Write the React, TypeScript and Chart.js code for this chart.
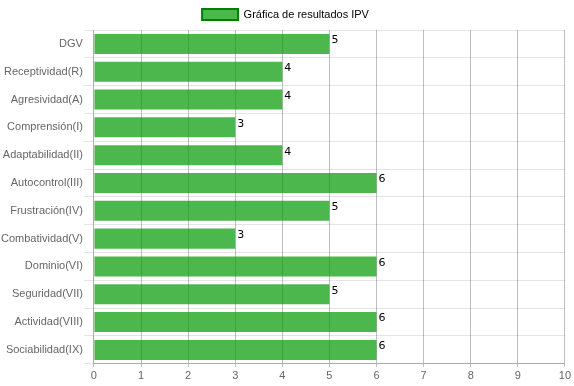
import React, { useEffect, useRef } from "react";
import { Chart, registerables } from "chart.js";

Chart.register(...registerables);

const categories = [
  "DGV",
  "Receptividad(R)",
  "Agresividad(A)",
  "Comprensión(I)",
  "Adaptabilidad(II)",
  "Autocontrol(III)",
  "Frustración(IV)",
  "Combatividad(V)",
  "Dominio(VI)",
  "Seguridad(VII)",
  "Actividad(VIII)",
  "Sociabilidad(IX)",
];
const values = [5, 4, 4, 3, 4, 6, 5, 3, 6, 5, 6, 6];
const seriesLabel = "Gráfica de resultados IPV";
const xMin = 0;
const xMax = 10;

const valueLabels = {
  id: "valueLabels",
  afterDatasetsDraw(chart: any) {
    const ctx = chart.ctx;
    const meta = chart.getDatasetMeta(0);
    ctx.save();
    ctx.font = "11px 'DejaVu Sans', sans-serif";
    ctx.fillStyle = "#000";
    ctx.textAlign = "left";
    ctx.textBaseline = "top";
    meta.data.forEach((bar: any, i: number) => {
      const v = chart.data.datasets[0].data[i];
      ctx.fillText(String(v), bar.x + 2, bar.y - bar.height / 2 + 1);
    });
    ctx.restore();
  },
};

export default function App() {
  const ref = useRef<HTMLCanvasElement | null>(null);
  useEffect(() => {
    if (!ref.current) return;
    Chart.defaults.font.family = "'Liberation Sans', Arial, sans-serif";
    Chart.defaults.font.size = 11;
    Chart.defaults.color = "#666";
    const chart = new Chart(ref.current, {
      type: "bar",
      data: {
        labels: categories,
        datasets: [
          {
            label: seriesLabel,
            data: values,
            backgroundColor: "rgba(0,153,0,0.7)",
            borderColor: "rgba(0,128,0,1)",
            borderWidth: 0,
          },
        ],
      },
      options: {
        indexAxis: "y",
        responsive: true,
        maintainAspectRatio: false,
        animation: false,
        layout: { padding: { left: 0, right: 3, top: 0, bottom: 0 } },
        plugins: {
          legend: {
            display: true,
            position: "top",
            labels: {
              boxWidth: 36,
              boxHeight: 11,
              padding: 9,
              font: { size: 11 },
              generateLabels: () => [
                {
                  text: seriesLabel,
                  fillStyle: "rgba(0,153,0,0.7)",
                  strokeStyle: "rgba(0,128,0,1)",
                  lineWidth: 2,
                  hidden: false,
                  datasetIndex: 0,
                } as any,
              ],
            },
          },
          tooltip: { enabled: false },
        },
        scales: {
          x: {
            min: xMin,
            max: xMax,
            ticks: { stepSize: 1, color: "#666", padding: 3 },
            grid: { color: "rgba(0,0,0,0.25)", tickLength: 3 },
            border: { color: "rgba(0,0,0,0.25)" },
          },
          y: {
            ticks: { color: "#666", padding: 1 },
            grid: { color: "rgba(0,0,0,0.1)", offset: true, tickLength: 10 },
            border: { color: "rgba(0,0,0,0.1)" },
          },
        },
      },
      plugins: [valueLabels],
    });
    return () => chart.destroy();
  }, []);
  return (
    <div style={{ position: "fixed", left: 0, top: 0, width: 574, height: 386 }}>
      <canvas ref={ref} />
    </div>
  );
}
